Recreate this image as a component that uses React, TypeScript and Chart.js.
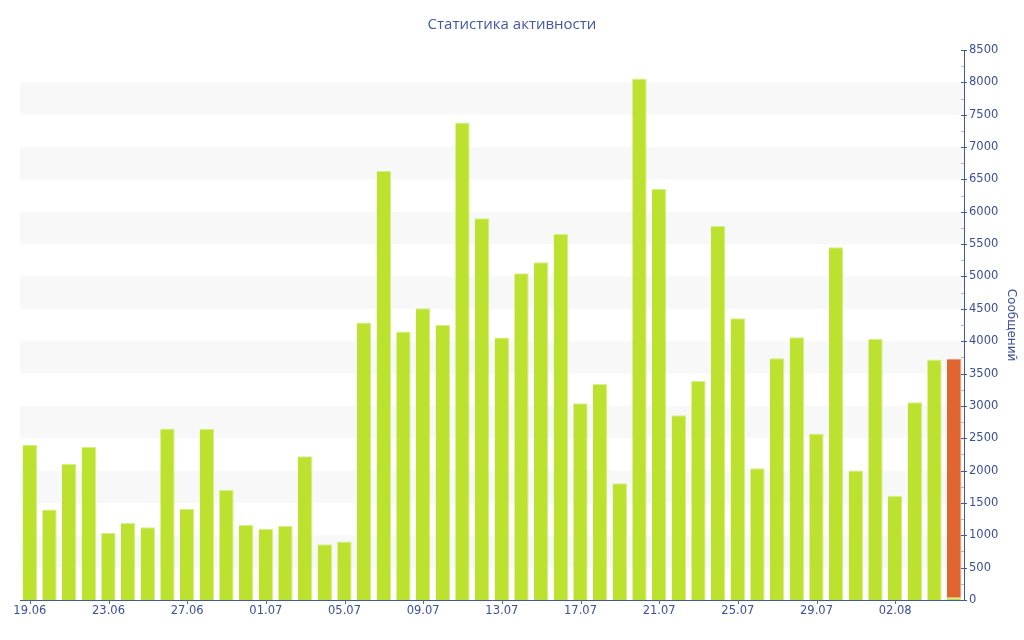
import React, { useEffect, useRef } from "react";
import { Chart, registerables } from "chart.js";

Chart.register(...registerables);

const dayLabels: string[] = [
  "19.06", "20.06", "21.06", "22.06", "23.06", "24.06", "25.06", "26.06", "27.06", "28.06", "29.06", "30.06",
  "01.07", "02.07", "03.07", "04.07", "05.07", "06.07", "07.07", "08.07", "09.07", "10.07", "11.07", "12.07",
  "13.07", "14.07", "15.07", "16.07", "17.07", "18.07", "19.07", "20.07", "21.07", "22.07", "23.07", "24.07",
  "25.07", "26.07", "27.07", "28.07", "29.07", "30.07", "31.07", "01.08", "02.08", "03.08", "04.08", "05.08",
];

const messagesDone: number[] = [
  2400, 1400, 2100, 2365, 1035, 1190, 1125, 2650, 1405, 2645, 1700, 1160,
  1100, 1145, 2220, 860, 905, 4290, 6630, 4150, 4510, 4250, 7380, 5900,
  4055, 5050, 5220, 5655, 3040, 3340, 1805, 8060, 6350, 2855, 3385, 5780,
  4355, 2035, 3735, 4060, 2575, 5450, 2000, 4035, 1610, 3055, 3715, 35,
];

const messagesToday: (number | null)[] = [
  null, null, null, null, null, null, null, null, null, null, null, null,
  null, null, null, null, null, null, null, null, null, null, null, null,
  null, null, null, null, null, null, null, null, null, null, null, null,
  null, null, null, null, null, null, null, null, null, null, null, 3695,
];

const chartTitle = "Статистика активности";
const yTitle = "Сообщений";
const yMax = 8500;
const yStep = 500;

const BLUE = "#3f5aa3";
const TEXT = "#3b4f99";
const GREEN = "#bce12f";
const ORANGE = "#e0652f";

const decorPlugin = {
  id: "decor",
  beforeDatasetsDraw(chart: any) {
    const { ctx, chartArea } = chart;
    const y = chart.scales.y;
    ctx.save();
    ctx.fillStyle = "#f8f8f8";
    for (let v = yStep; v < yMax; v += yStep * 2) {
      const top = y.getPixelForValue(v + yStep);
      const bot = y.getPixelForValue(v);
      ctx.fillRect(chartArea.left, top, chartArea.right - chartArea.left, bot - top);
    }
    ctx.restore();
  },
  afterDraw(chart: any) {
    const { ctx, chartArea } = chart;
    const y = chart.scales.y;
    const x = chart.scales.x;
    const ax = chartArea.right;
    ctx.save();
    ctx.lineWidth = 1;
    for (let v = 0; v <= yMax; v += yStep / 2) {
      const py = Math.round(y.getPixelForValue(v)) + 0.5;
      const major = v % yStep === 0;
      ctx.strokeStyle = major ? BLUE : "#b8b8b8";
      ctx.beginPath();
      ctx.moveTo(ax - 3, py);
      ctx.lineTo(major ? ax + 3 : ax, py);
      ctx.stroke();
    }
    ctx.strokeStyle = "#5a6a90";
    for (let i = 0; i < dayLabels.length; i += 4) {
      const px = Math.round(x.getPixelForValue(i)) + 0.5;
      ctx.beginPath();
      ctx.moveTo(px, chartArea.bottom);
      ctx.lineTo(px, chartArea.bottom + 4);
      ctx.stroke();
    }
    // chart title centred on the whole canvas
    ctx.fillStyle = "#4258a2";
    ctx.font = "15px 'Open Sans', 'Noto Sans', sans-serif";
    ctx.textAlign = "center";
    ctx.textBaseline = "middle";
    ctx.fillText(chartTitle, chart.width / 2, 25);
    ctx.restore();
  },
};

export default function App() {
  const ref = useRef<HTMLCanvasElement | null>(null);

  useEffect(() => {
    if (!ref.current) return;
    const chart = new Chart(ref.current, {
      type: "bar",
      data: {
        labels: dayLabels,
        datasets: [
          {
            label: "Сообщений",
            data: messagesDone,
            backgroundColor: GREEN,
            borderColor: "#d6ef86",
            borderWidth: { top: 1, right: 1, left: 0, bottom: 0 },
            borderSkipped: false,
            barPercentage: 0.73,
            categoryPercentage: 1,
          },
          {
            label: "Сегодня",
            data: messagesToday,
            backgroundColor: ORANGE,
            borderColor: "#ee9a74",
            borderWidth: { top: 1, right: 1, left: 0, bottom: 0 },
            borderSkipped: false,
            barPercentage: 0.73,
            categoryPercentage: 1,
          },
        ],
      },
      options: {
        responsive: true,
        maintainAspectRatio: false,
        animation: false,
        layout: { padding: { left: 20, right: 2, top: 50, bottom: 23 } },
        plugins: {
          legend: { display: false },
          tooltip: { enabled: false },
          title: { display: false },
        },
        scales: {
          x: {
            stacked: true,
            offset: true,
            grid: { display: false, drawTicks: false },
            border: { display: true, color: BLUE, width: 1 },
            ticks: {
              autoSkip: false,
              maxRotation: 0,
              minRotation: 0,
              padding: 4,
              color: TEXT,
              font: { family: "'DejaVu Sans', sans-serif", size: 11.5 },
              callback: (_v: any, i: number) => (i % 4 === 0 ? dayLabels[i] : ""),
            },
            afterFit: (s: any) => {
              s.height = 17;
            },
          },
          y: {
            stacked: true,
            position: "right",
            min: 0,
            max: yMax,
            grid: { display: false, drawTicks: false },
            border: { display: true, color: BLUE, width: 1 },
            ticks: {
              stepSize: yStep,
              padding: 5,
              color: TEXT,
              font: { family: "'DejaVu Sans', sans-serif", size: 11.5 },
              callback: (v: any) => String(v),
            },
            title: {
              display: true,
              text: yTitle,
              color: TEXT,
              font: { family: "'DejaVu Sans', sans-serif", size: 12 },
              padding: { top: 4, bottom: 4 },
            },
            afterFit: (s: any) => {
              s.width = 58;
            },
          },
        },
      },
      plugins: [decorPlugin],
    });
    return () => chart.destroy();
  }, []);

  return (
    <div style={{ position: "fixed", left: 0, top: 0, width: 1024, height: 640, background: "#fff" }}>
      <canvas ref={ref} />
    </div>
  );
}
